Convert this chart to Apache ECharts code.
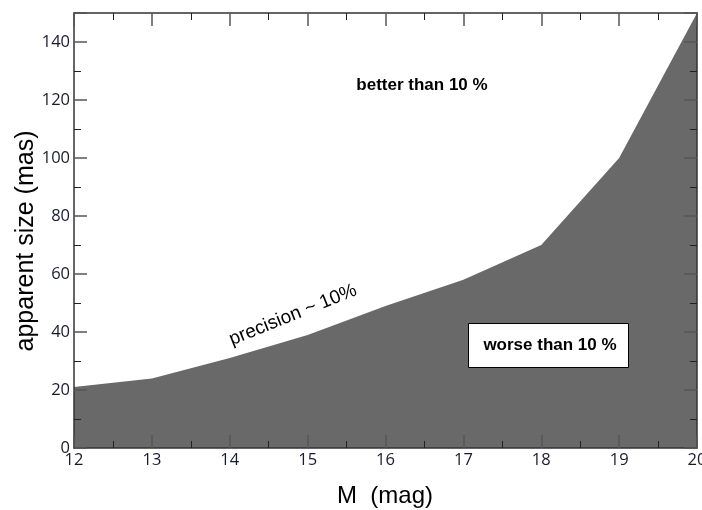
<!DOCTYPE html>
<html><head><meta charset="utf-8">
<script src="https://cdn.jsdelivr.net/npm/echarts@6/dist/echarts.min.js"></script>
<style>html,body{margin:0;padding:0;background:#fff}#c{width:702px;height:510px}</style>
</head><body><div id="c"></div>
<script>
const magnitudes = [12, 13, 14, 15, 16, 17, 18, 19, 20];
const apparentSize = [21, 24, 31, 39, 49, 58, 70, 100, 150];
const xTitle = 'M  (mag)';
const yTitle = 'apparent size (mas)';
const labelBetter = 'better than 10 %';
const labelWorse = 'worse than 10 %';
const labelPrecision = 'precision ~ 10%';

const chart = echarts.init(document.getElementById('c'));
const font = '"Liberation Sans", Arial, sans-serif';
const tickFont = '"Open Sans", "Noto Sans", sans-serif';
function axisBase(extra) {
  return Object.assign({
    z: 10,
    axisLine: { show: true, onZero: false, lineStyle: { color: '#333', width: 1.5 } },
    axisTick: { show: true, inside: true, length: 13, lineStyle: { color: '#555', width: 1.5 } },
    minorTick: { show: true, splitNumber: 2, length: 7, lineStyle: { color: '#222', width: 1 } },
    splitLine: { show: false },
  }, extra);
}
chart.setOption({
  animation: false,
  grid: { left: 74, right: 5, top: 13, bottom: 62, outerBoundsMode: 'none', containLabel: false },
  xAxis: [
    axisBase({ type: 'value', min: 12, max: 20, interval: 1, position: 'bottom',
      axisLabel: { fontFamily: tickFont, fontSize: 16.5, color: '#1a1a2e', margin: 4 } }),
    axisBase({ type: 'value', min: 12, max: 20, interval: 1, position: 'top',
      axisLabel: { show: false } })
  ],
  yAxis: [
    axisBase({ type: 'value', min: 0, max: 150, interval: 20, position: 'left',
      axisLabel: { fontFamily: tickFont, fontSize: 16.5, color: '#1a1a2e', margin: 4,
        showMaxLabel: false } }),
    axisBase({ type: 'value', min: 0, max: 150, interval: 20, position: 'right',
      axisLabel: { show: false } })
  ],
  series: [{
    type: 'line',
    data: magnitudes.map((m, i) => [m, apparentSize[i]]),
    showSymbol: false,
    symbol: 'none',
    lineStyle: { width: 0 },
    areaStyle: { color: '#696969', opacity: 1 },
    z: 1
  }],
  graphic: [
    { type: 'text', x: 385, y: 496, z: 20,
      style: { text: xTitle, font: '24px ' + font, fill: '#000', align: 'center', verticalAlign: 'middle' } },
    { type: 'text', x: 26, y: 241, rotation: Math.PI / 2, z: 20,
      style: { text: yTitle, font: '25px ' + font, fill: '#000', align: 'center', verticalAlign: 'middle' } },
    { type: 'text', x: 422, y: 85, z: 20,
      style: { text: labelBetter, font: 'bold 17px ' + font, fill: '#000', align: 'center', verticalAlign: 'middle' } },
    { type: 'rect', shape: { x: 468.5, y: 323.5, width: 160, height: 44 }, z: 20,
      style: { fill: '#fff', stroke: '#000', lineWidth: 1 } },
    { type: 'text', x: 550, y: 345, z: 21,
      style: { text: labelWorse, font: 'bold 17px ' + font, fill: '#000', align: 'center', verticalAlign: 'middle' } },
    { type: 'text', x: 293, y: 315, rotation: 22 * Math.PI / 180, z: 20,
      style: { text: labelPrecision, font: '19px ' + font, fill: '#000', align: 'center', verticalAlign: 'middle' } }
  ]
});
</script></body></html>
